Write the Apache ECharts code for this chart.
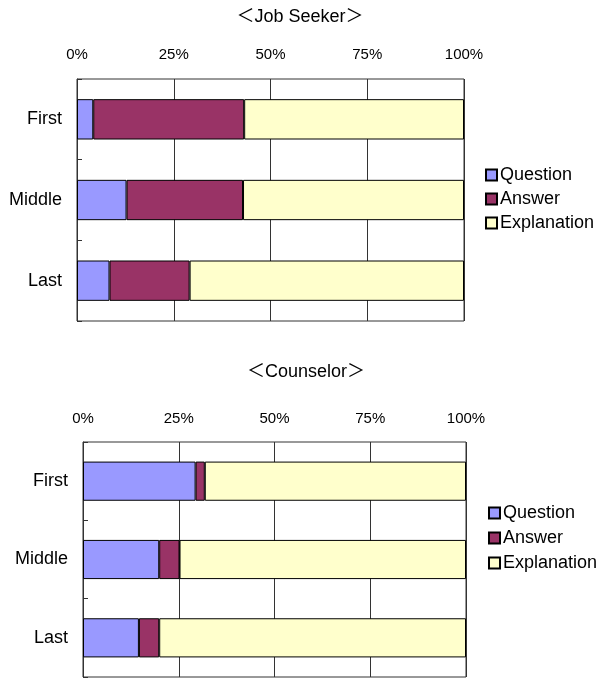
<!DOCTYPE html>
<html>
<head>
<meta charset="utf-8">
<script src="https://cdn.jsdelivr.net/npm/echarts@6/dist/echarts.min.js"></script>
<style>html,body{margin:0;padding:0;background:#fff}#c{width:602px;height:678px}</style>
</head>
<body>
<div id="c"></div>
<script>
const categories = ['First', 'Middle', 'Last'];
const seriesNames = ['Question', 'Answer', 'Explanation'];
const tickLabels = ['0%', '25%', '50%', '75%', '100%'];
const titles = ['＜Job Seeker＞', '＜Counselor＞'];

const seekerQuestion = [4.2, 12.8, 8.4];
const seekerAnswer = [39.0, 30.1, 20.7];
const seekerExplanation = [56.8, 57.1, 70.9];

const counselorQuestion = [29.4, 19.9, 14.6];
const counselorAnswer = [2.4, 5.3, 5.3];
const counselorExplanation = [68.2, 74.8, 80.1];

const colors = ['#9999FF', '#993366', '#FFFFCC'];
const FONT = '"Liberation Sans", "Noto Sans CJK JP", sans-serif';
const LINE = '#333333';

const chart = echarts.init(document.getElementById('c'), null, {renderer: 'canvas'});

function xAxis(gi, margin) {
  return {
    type: 'value', gridIndex: gi, position: 'top', min: 0, max: 100, interval: 25,
    axisLine: {show: false},
    axisTick: {show: false},
    axisLabel: {margin: margin, color: '#000', fontSize: 15, fontFamily: FONT,
      formatter: v => tickLabels[Math.round(v / 25)]},
    splitLine: {show: true, lineStyle: {color: LINE, width: 1}}
  };
}
function yAxis(gi) {
  return {
    type: 'category', gridIndex: gi, data: categories, inverse: true,
    axisLine: {show: true, lineStyle: {color: LINE, width: 1}},
    axisTick: {show: true, inside: true, length: 5, lineStyle: {color: LINE}},
    axisLabel: {margin: 15, color: '#000', fontSize: 18, fontFamily: FONT},
    splitLine: {show: false}
  };
}
const groups = [
  [seekerQuestion, seekerAnswer, seekerExplanation],
  [counselorQuestion, counselorAnswer, counselorExplanation]
];
const series = [];
groups.forEach((g, gi) => {
  g.forEach((d, si) => {
    series.push({
      name: seriesNames[si], type: 'bar', stack: 's' + gi,
      xAxisIndex: gi, yAxisIndex: gi, data: d,
      barCategoryGap: '50%',
      itemStyle: {color: colors[si], borderColor: '#000', borderWidth: 1},
      emphasis: {disabled: true},
      animation: false
    });
  });
});

function legend(left, top, gap) {
  return {
    orient: 'vertical', left: left, top: top, icon: 'rect', padding: 0,
    itemWidth: 11, itemHeight: 11, itemGap: gap,
    data: seriesNames,
    textStyle: {color: '#000', fontSize: 18, fontFamily: FONT, lineHeight: 18, padding: [0, 0, 0, -2]},
    selectedMode: false
  };
}

chart.setOption({
  animation: false,
  backgroundColor: '#fff',
  graphic: [
    {type: 'text', x: 300, y: 17, style: {text: titles[0], font: '18px ' + FONT, fill: '#000', align: 'center', verticalAlign: 'middle'}},
    {type: 'text', x: 306, y: 372, style: {text: titles[1], font: '18px ' + FONT, fill: '#000', align: 'center', verticalAlign: 'middle'}}
  ],
  grid: [
    {left: 77, top: 79, width: 387, height: 242, show: true, borderColor: LINE, borderWidth: 1, backgroundColor: 'transparent'},
    {left: 83, top: 442, width: 383, height: 235, show: true, borderColor: LINE, borderWidth: 1, backgroundColor: 'transparent'}
  ],
  xAxis: [xAxis(0, 17), xAxis(1, 16)],
  yAxis: [yAxis(0), yAxis(1)],
  legend: [legend(485, 166, 6), legend(488, 504, 7)],
  series: series
});
</script>
</body>
</html>
